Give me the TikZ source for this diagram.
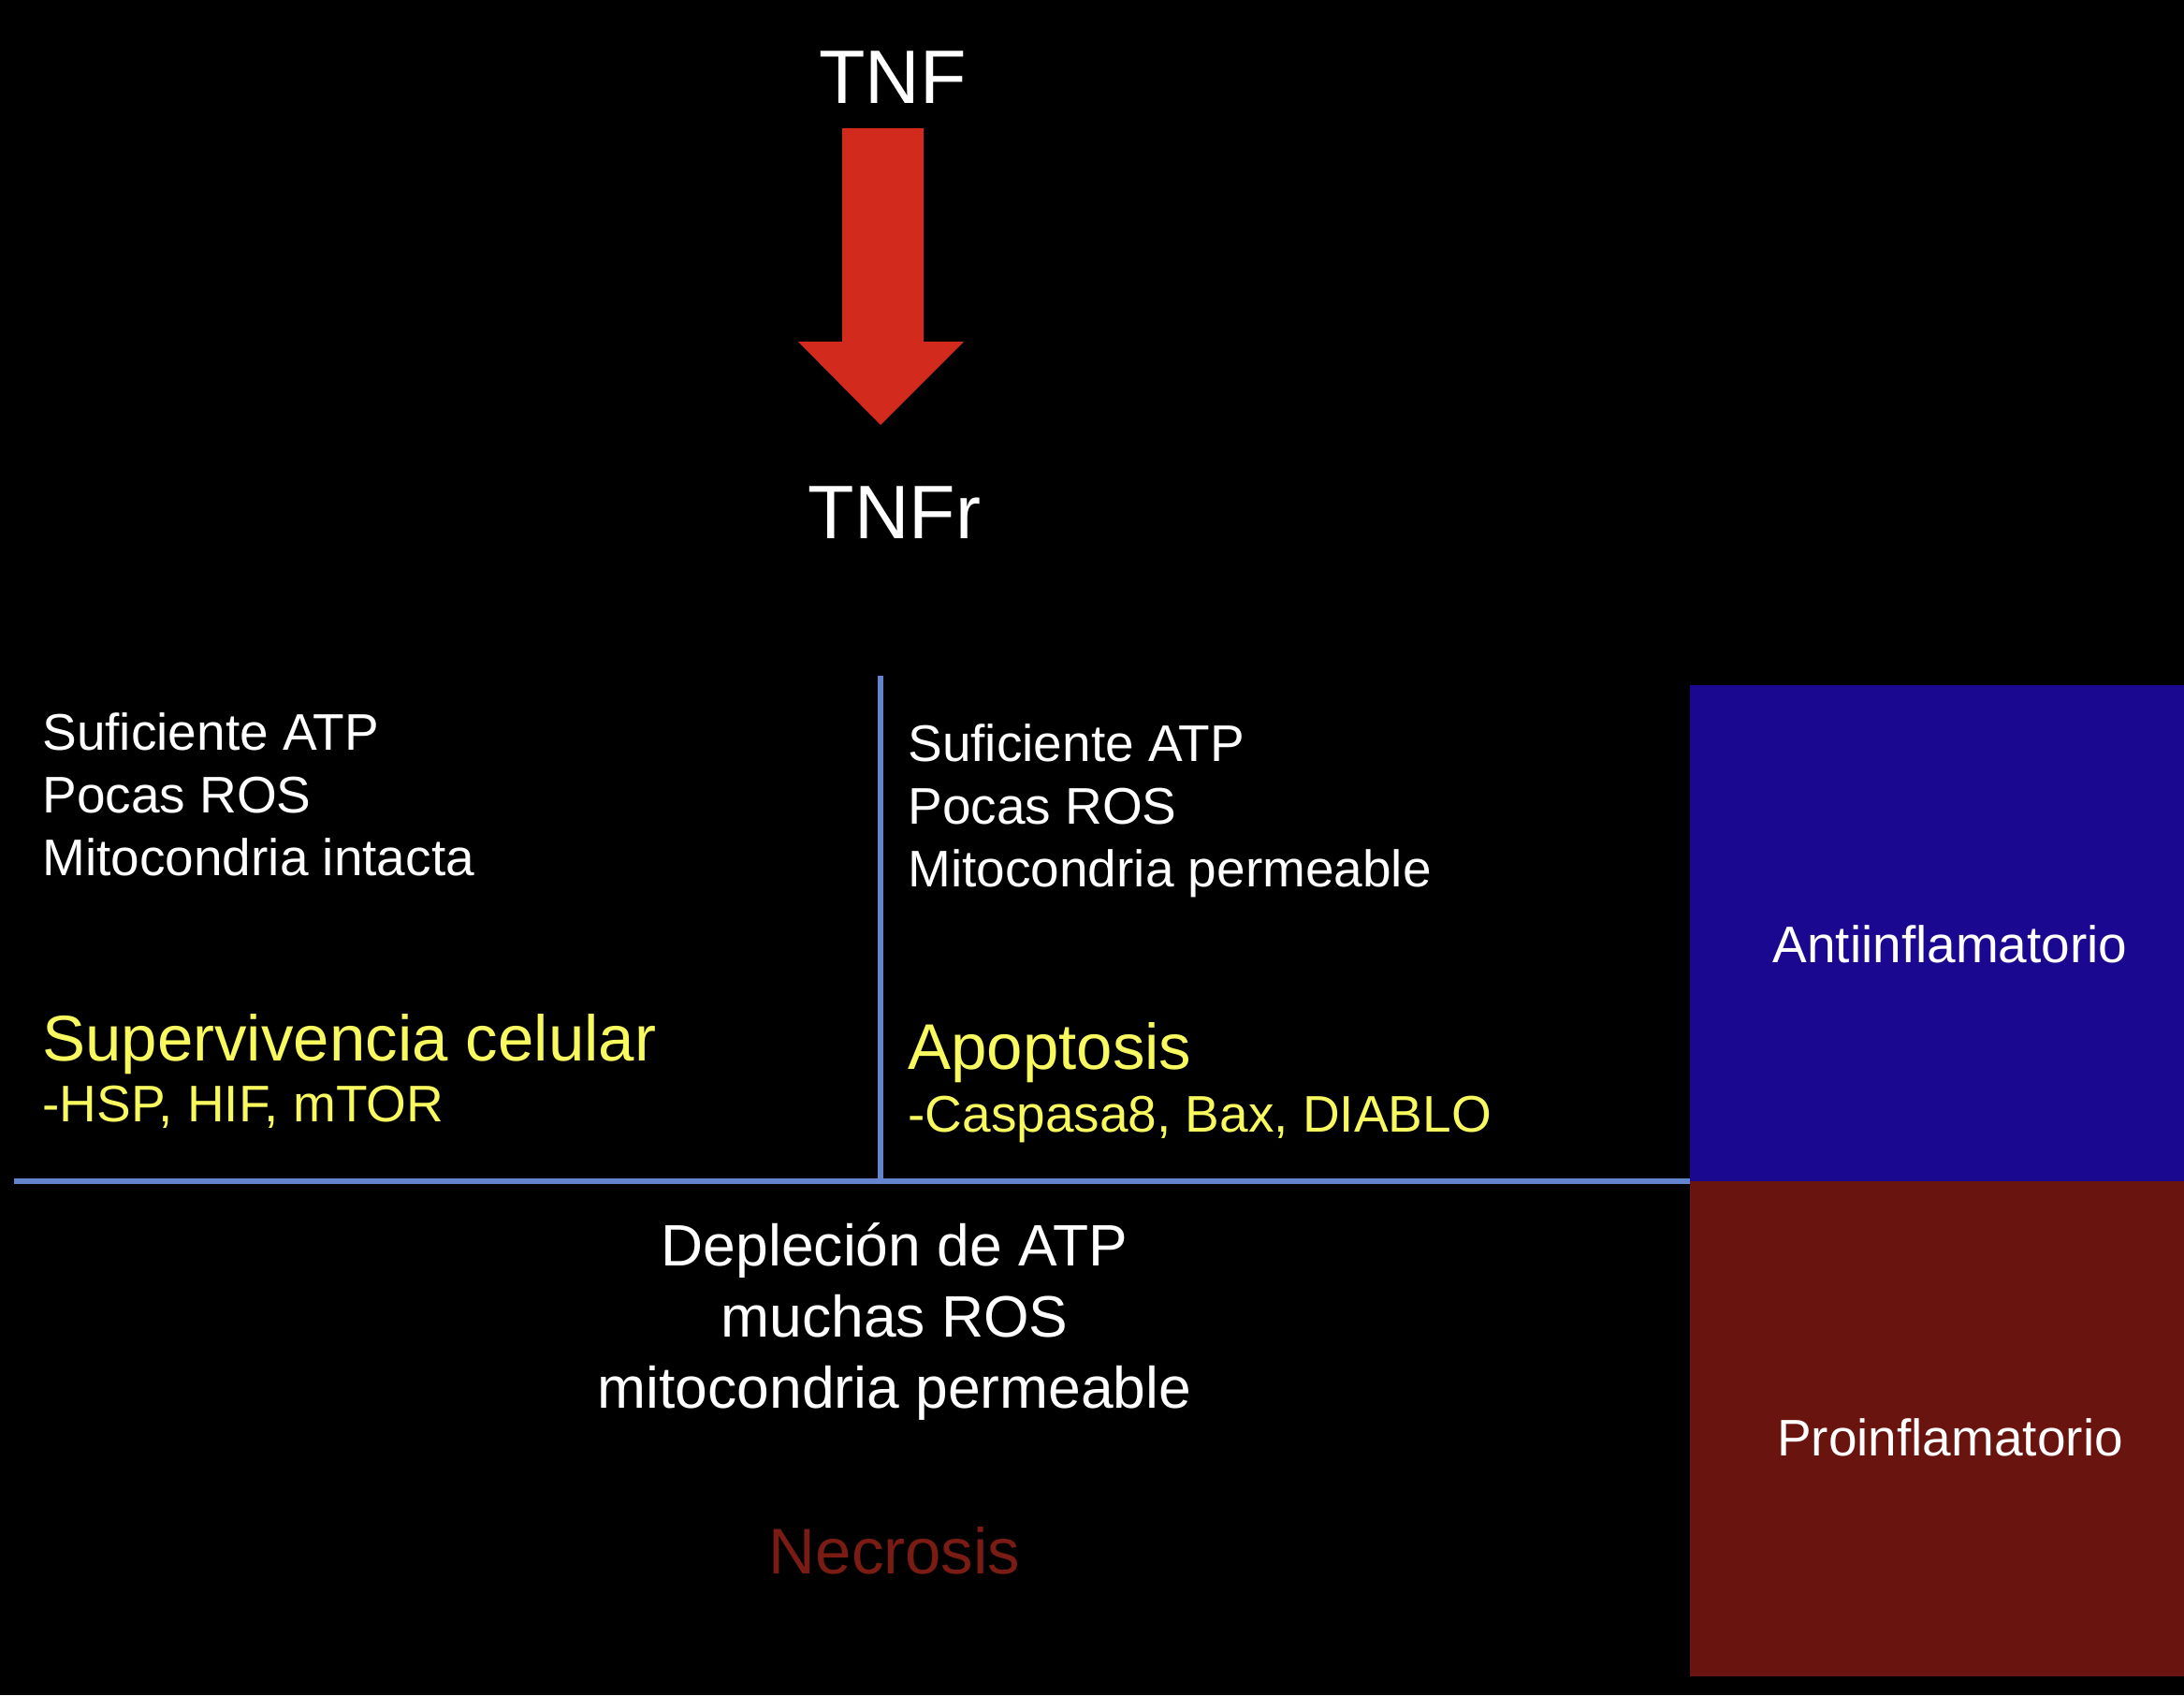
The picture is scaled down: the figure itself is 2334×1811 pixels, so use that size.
\documentclass[tikz,border=0pt]{standalone}
\usepackage{fontspec}
\setmainfont{Liberation Sans}
\definecolor{bgblue}{RGB}{27,8,145}
\definecolor{bgred}{RGB}{105,20,14}
\definecolor{arrred}{RGB}{210,42,28}
\definecolor{ylw}{RGB}{248,248,95}
\definecolor{necro}{RGB}{122,28,20}
\definecolor{sepline}{RGB}{100,132,205}
\begin{document}
\begin{tikzpicture}[x=0.5pt,y=-0.5pt,
  wtxt/.style={inner sep=0pt, text=white, font=\fontsize{27.5}{33}\selectfont},
  ytxt/.style={inner sep=0pt, text=ylw, font=\fontsize{27.5}{33}\selectfont},
  ybig/.style={inner sep=0pt, text=ylw, font=\fontsize{34.5}{41}\selectfont},
  wmid/.style={inner sep=0pt, text=white, font=\fontsize{31.2}{37}\selectfont},
  title/.style={inner sep=0pt, text=white, font=\fontsize{40.5}{48}\selectfont},
  divider/.style={draw=sepline, line width=2.6pt}]
\fill[black] (0,0) rectangle (2334,1811);
\useasboundingbox (0,0) rectangle (2334,1811);

% coloured panels
\fill[bgblue] (1806,732) rectangle (2334,1262);
\fill[bgred] (1806,1262) rectangle (2334,1791);

% title and arrow
\node[title, anchor=base] (tnf) at (954,110) {TNF};
\node[title, anchor=base] (tnfr) at (956,575) {TNFr};
\fill[arrred] (900,137) -- (987,137) -- (987,365) -- (1030,365) -- (941,454)
  -- (853,365) -- (900,365) -- cycle;

% dividers
\coordinate (vtop) at (941,722);
\coordinate (cross) at (941,1262);
\coordinate (hleft) at (15,1262);
\coordinate (hright) at (1806,1262);
\draw[divider] (vtop) -- (cross);
\draw[divider] (hleft) -- (hright);

% left column
\node[wtxt, anchor=base west] (l1) at (45,801) {Suficiente ATP};
\node[wtxt, anchor=base west] (l2) at (45,868) {Pocas ROS};
\node[wtxt, anchor=base west] (l3) at (45,935) {Mitocondria intacta};
\node[ybig, anchor=base west] (l4) at (45,1133) {Supervivencia celular};
\node[ytxt, anchor=base west] (l5) at (45,1198) {-HSP, HIF, mTOR};

% right column
\node[wtxt, anchor=base west] (r1) at (970,813) {Suficiente ATP};
\node[wtxt, anchor=base west] (r2) at (970,880) {Pocas ROS};
\node[wtxt, anchor=base west] (r3) at (970,947) {Mitocondria permeable};
\node[ybig, anchor=base west] (r4) at (970,1142) {Apoptosis};
\node[ytxt, anchor=base west] (r5) at (970,1209) {-Caspasa8, Bax, DIABLO};

% bottom
\node[wmid, anchor=base] (b1) at (956,1352) {Depleción de ATP};
\node[wmid, anchor=base] (b2) at (956,1428) {muchas ROS};
\node[wmid, anchor=base] (b3) at (956,1504) {mitocondria permeable};
\node[inner sep=0pt, text=necro, font=\fontsize{34.5}{41}\selectfont, anchor=base] (b4) at (956,1681) {Necrosis};

% panel labels
\node[wtxt, anchor=base] (anti) at (2084,1028) {Antiinflamatorio};
\node[wtxt, anchor=base] (pro) at (2084,1555) {Proinflamatorio};
\end{tikzpicture}
\end{document}
